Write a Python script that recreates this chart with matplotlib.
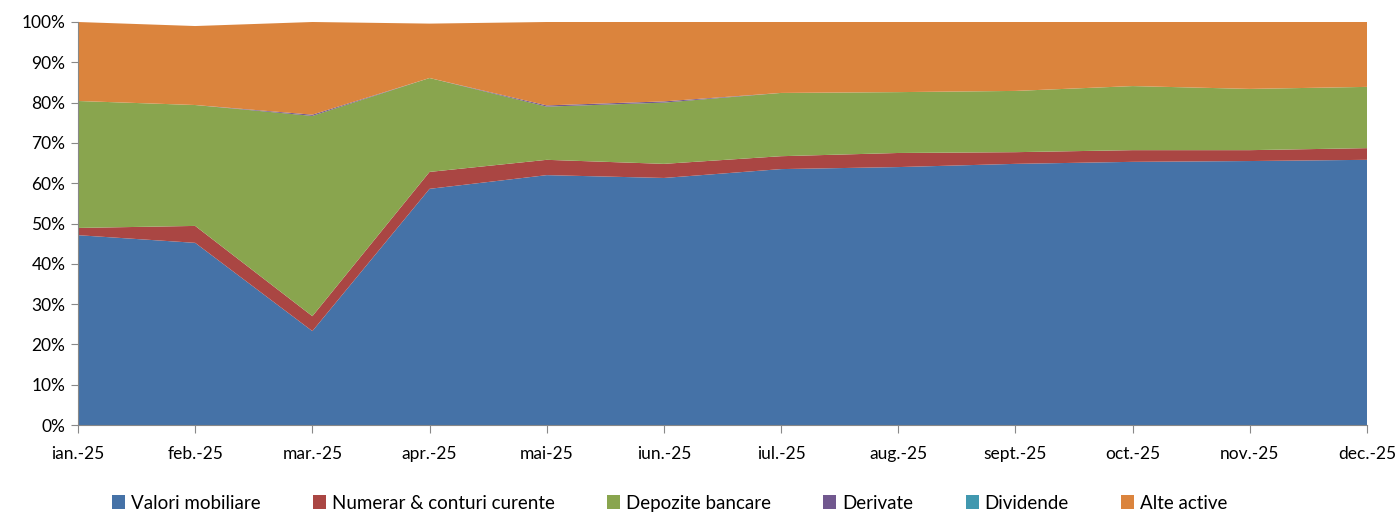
import numpy as np
import matplotlib
matplotlib.use("Agg")
import matplotlib.pyplot as plt
from matplotlib.ticker import PercentFormatter

plt.rcParams['font.family'] = ['Lato', 'DejaVu Sans']

# Monthly asset structure (% of total assets)
months = ['ian.-25', 'feb.-25', 'mar.-25', 'apr.-25', 'mai-25', 'iun.-25',
          'iul.-25', 'aug.-25', 'sept.-25', 'oct.-25', 'nov.-25', 'dec.-25']
valori = [47.1, 45.2, 23.3, 58.6, 62.0, 61.3, 63.5, 64.0, 64.8, 65.3, 65.5, 65.8]
numerar = [1.8, 4.2, 3.7, 4.2, 3.8, 3.5, 3.2, 3.5, 2.9, 2.9, 2.7, 2.9]
depozite = [31.5, 30.0, 49.7, 23.3, 13.2, 15.2, 15.7, 15.1, 15.2, 15.9, 15.2, 15.2]
derivate = [0.0, 0.0, 0.3, 0.0, 0.3, 0.3, 0.0, 0.0, 0.0, 0.0, 0.0, 0.0]
dividende = [0.0, 0.0, 0.0, 0.0, 0.0, 0.0, 0.0, 0.0, 0.0, 0.0, 0.0, 0.0]
alte = [19.6, 19.6, 23.0, 13.5, 20.7, 19.7, 17.6, 17.4, 17.1, 15.9, 16.6, 16.1]

labels = ['Valori mobiliare', 'Numerar & conturi curente', 'Depozite bancare',
          'Derivate', 'Dividende', 'Alte active']
colors = ['#4572A7', '#AA4643', '#89A54E', '#71588F', '#4198AF', '#DB843D']

fig = plt.figure(figsize=(13.98, 5.13), dpi=100)
ax = fig.add_axes([78 / 1398, 1 - 425 / 513, (1367 - 78) / 1398, (425 - 22) / 513])

x = np.arange(len(months))
ax.stackplot(x, valori, numerar, depozite, derivate, dividende, alte,
             colors=colors, labels=labels, linewidth=0)

ax.set_xlim(0, len(months) - 1)
ax.set_ylim(0, 100)
ax.set_xticks(x)
ax.set_xticklabels(months, fontsize=12.5)
ax.set_yticks(np.arange(0, 101, 10))
ax.yaxis.set_major_formatter(PercentFormatter(decimals=0))
ax.tick_params(axis='y', labelsize=12.5, length=5, color='#888888', pad=4)
ax.tick_params(axis='x', length=6, color='#888888', pad=9)

for side in ['top', 'right']:
    ax.spines[side].set_visible(False)
for side in ['left', 'bottom']:
    ax.spines[side].set_color('#888888')

fig.legend(loc='lower center', bbox_to_anchor=(0.479, -0.03), ncol=6, frameon=False,
           fontsize=13.5, handlelength=0.7, handleheight=0.7, handletextpad=0.3,
           columnspacing=2.8)

fig.savefig('out.png', dpi=100)
